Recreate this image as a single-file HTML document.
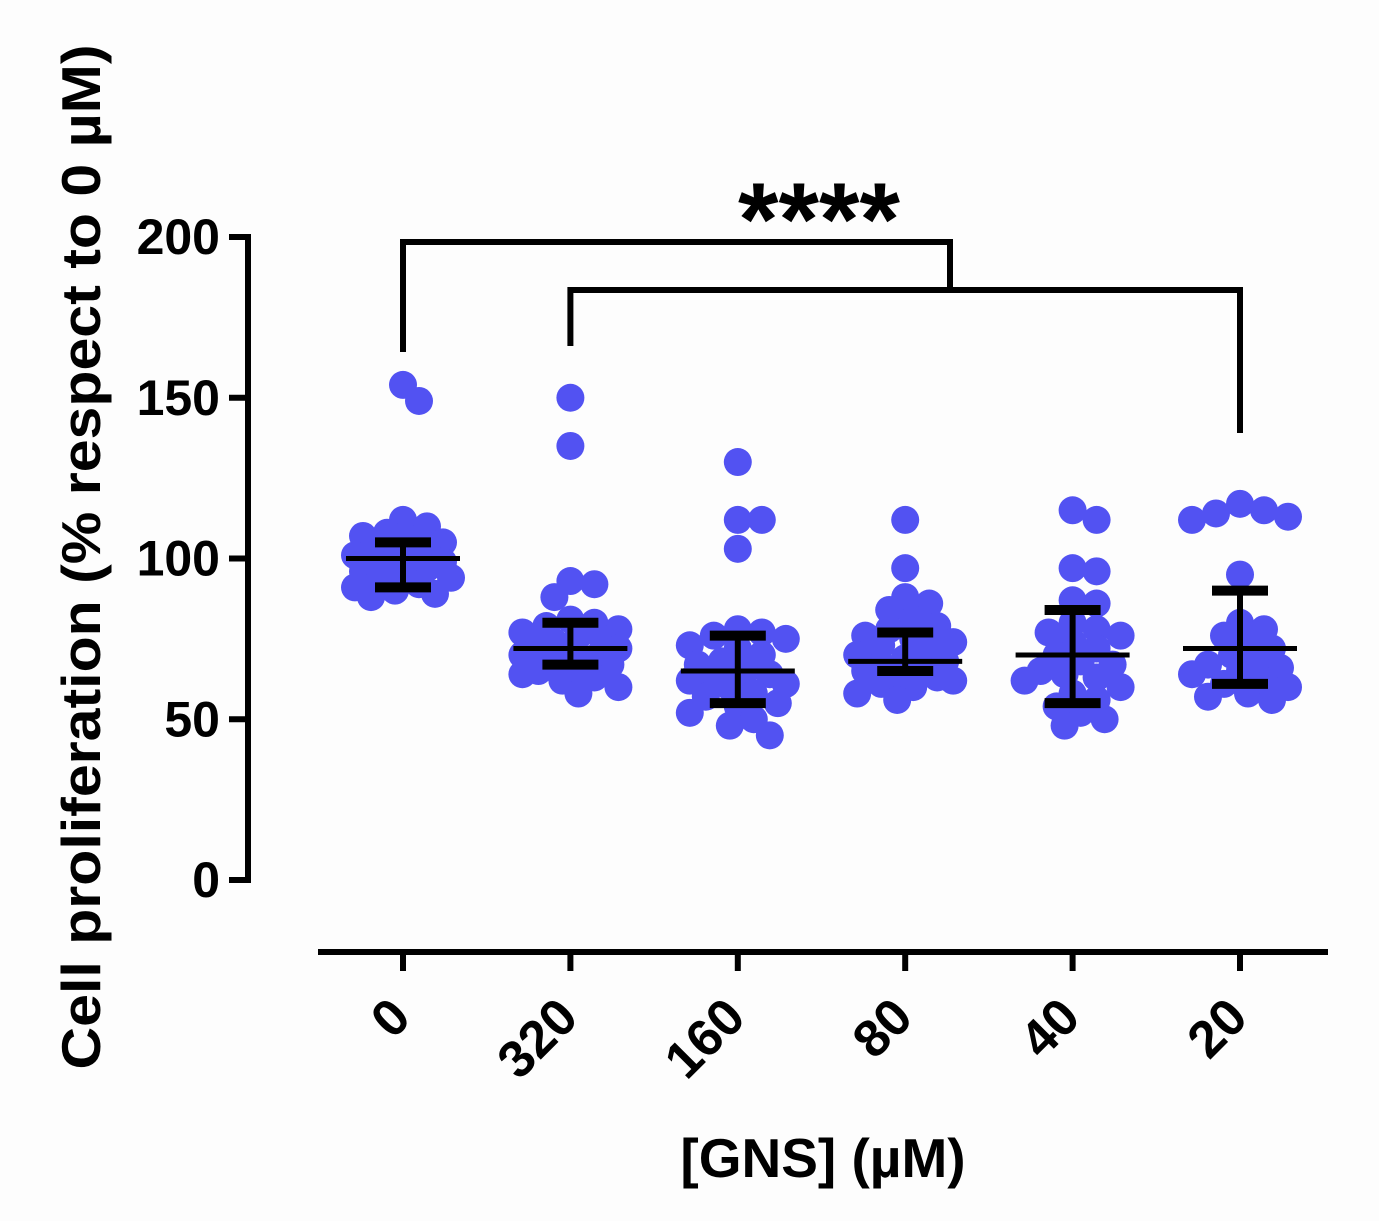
<!DOCTYPE html>
<html><head><meta charset="utf-8"><style>
html,body{margin:0;padding:0;background:#fff;}
svg{display:block;font-family:"Liberation Sans",Arial,sans-serif;font-weight:bold;}
</style></head><body>
<svg id="chart" width="1379" height="1221" viewBox="0 0 1379 1221">
<rect width="1379" height="1221" fill="#fdfdfd"/>
<g id="axes"></g><g id="marks"></g>
</svg>
<script>
const categories = ["0","320","160","80","40","20"];
const groupValues = [
 [154,149,112,110,108,107,106,105,104,103,102,101,100,99,98,97,96,95,94,93,92,91,90,89,88],
 [150,135,93,92,88,81,80,79,78,77,76,75,74,73,72,71,70,69,68,67,66,65,64,63,62,60,58],
 [130,112,112,103,78,77,76,75,73,72,70,68,67,65,64,63,62,61,60,58,57,55,54,52,50,48,45],
 [112,97,88,86,84,81,79,78,76,75,74,73,72,70,69,68,67,66,65,64,63,62,61,60,58,56],
 [115,112,97,96,87,86,80,78,77,76,74,72,70,68,67,65,64,63,62,60,58,56,54,52,50,48],
 [117,115,114,113,112,95,80,78,76,74,72,70,68,67,66,65,64,62,61,60,58,57,56]
];
const means = [100,72,65,68,70,72];
const errLow = [91,67,55,65,55,61];
const errHigh = [105,80,76,77,84,90];
const yTicks = [0,50,100,150,200];
const sigLabel = "****";

const NS="http://www.w3.org/2000/svg";
const axes=document.getElementById('axes'), marks=document.getElementById('marks');
const y = v => 880 - v*3.215;
const x = i => 403 + i*167.4;
function mk(tag, attrs, parent){const e=document.createElementNS(NS,tag);for(const k in attrs)e.setAttribute(k,attrs[k]);parent.appendChild(e);return e;}

let yl=mk('line',{x1:248,y1:y(200)-3,x2:248,y2:y(0)+3,stroke:'#000','stroke-width':6},axes);


yTicks.forEach(t=>{
 let tk=mk('line',{x1:229,y1:y(t),x2:248,y2:y(t),stroke:'#000','stroke-width':6},axes);
 
 
 let tx=mk('text',{x:220,y:y(t),'text-anchor':'end','dominant-baseline':'central','font-size':50},axes);
 tx.textContent=t;
 
 
});
let xl=mk('line',{x1:318,y1:952,x2:1328,y2:952,stroke:'#000','stroke-width':6},axes);


categories.forEach((c,i)=>{
 let tk=mk('line',{x1:x(i),y1:952,x2:x(i),y2:971,stroke:'#000','stroke-width':6},axes);
 
 
 let tx=mk('text',{'text-anchor':'end','dominant-baseline':'central','font-size':52,transform:`translate(${x(i)-2},1008) rotate(-45)`},axes);
 tx.textContent=c;
 
 
});
let xt=mk('text',{x:823,y:1177,'text-anchor':'middle','font-size':55},axes);
xt.textContent='[GNS] (\u00b5M)';


let yt=mk('text',{'text-anchor':'middle','font-size':55,textLength:1025,lengthAdjust:'spacingAndGlyphs',transform:'translate(100,557) rotate(-90)'},axes);
yt.textContent='Cell proliferation (% respect to 0 \u00b5M)';



const R=14, minD=19, step=8, maxK=6;
groupValues.forEach((vals,i)=>{
 const placed=[];
 vals.forEach(v=>{
  const py=y(v);
  const cand=[0];
  for(let k=1;k<=maxK;k++){cand.push(k*step,-k*step);}
  let best=0,bestD=-1;
  for(const o of cand){
   const d=placed.reduce((m,p)=>Math.min(m,Math.hypot(p[0]-o,p[1]-py)),1e9);
   if(d>=minD){best=o;bestD=d;break;}
   if(d>bestD){bestD=d;best=o;}
  }
  placed.push([best,py]);
  let c=mk('circle',{cx:x(i)+best,cy:py,r:R,fill:'#5252f2'},marks);
  
  
 });
});
categories.forEach((c,i)=>{
 const g=mk('g',{stroke:'#000','stroke-width':6},marks);
 
 
 mk('line',{x1:x(i),y1:y(errHigh[i]),x2:x(i),y2:y(errLow[i])},g);
 mk('line',{x1:x(i)-28,y1:y(errHigh[i]),x2:x(i)+28,y2:y(errHigh[i]),'stroke-width':10},g);
 mk('line',{x1:x(i)-28,y1:y(errLow[i]),x2:x(i)+28,y2:y(errLow[i]),'stroke-width':10},g);
 let m=mk('line',{x1:x(i)-57,y1:y(means[i]),x2:x(i)+57,y2:y(means[i]),stroke:'#000','stroke-width':5},marks);
 
 
});
let b1=mk('path',{d:`M${x(0)},352 V242 H950 V290`,fill:'none',stroke:'#000','stroke-width':6},marks);


let b2=mk('path',{d:`M${x(1)},346 V290 H${x(5)} V433`,fill:'none',stroke:'#000','stroke-width':6},marks);


let st=mk('text',{x:819,y:255,'text-anchor':'middle','font-size':104},marks);
st.textContent=sigLabel;


</script>
</body></html>
